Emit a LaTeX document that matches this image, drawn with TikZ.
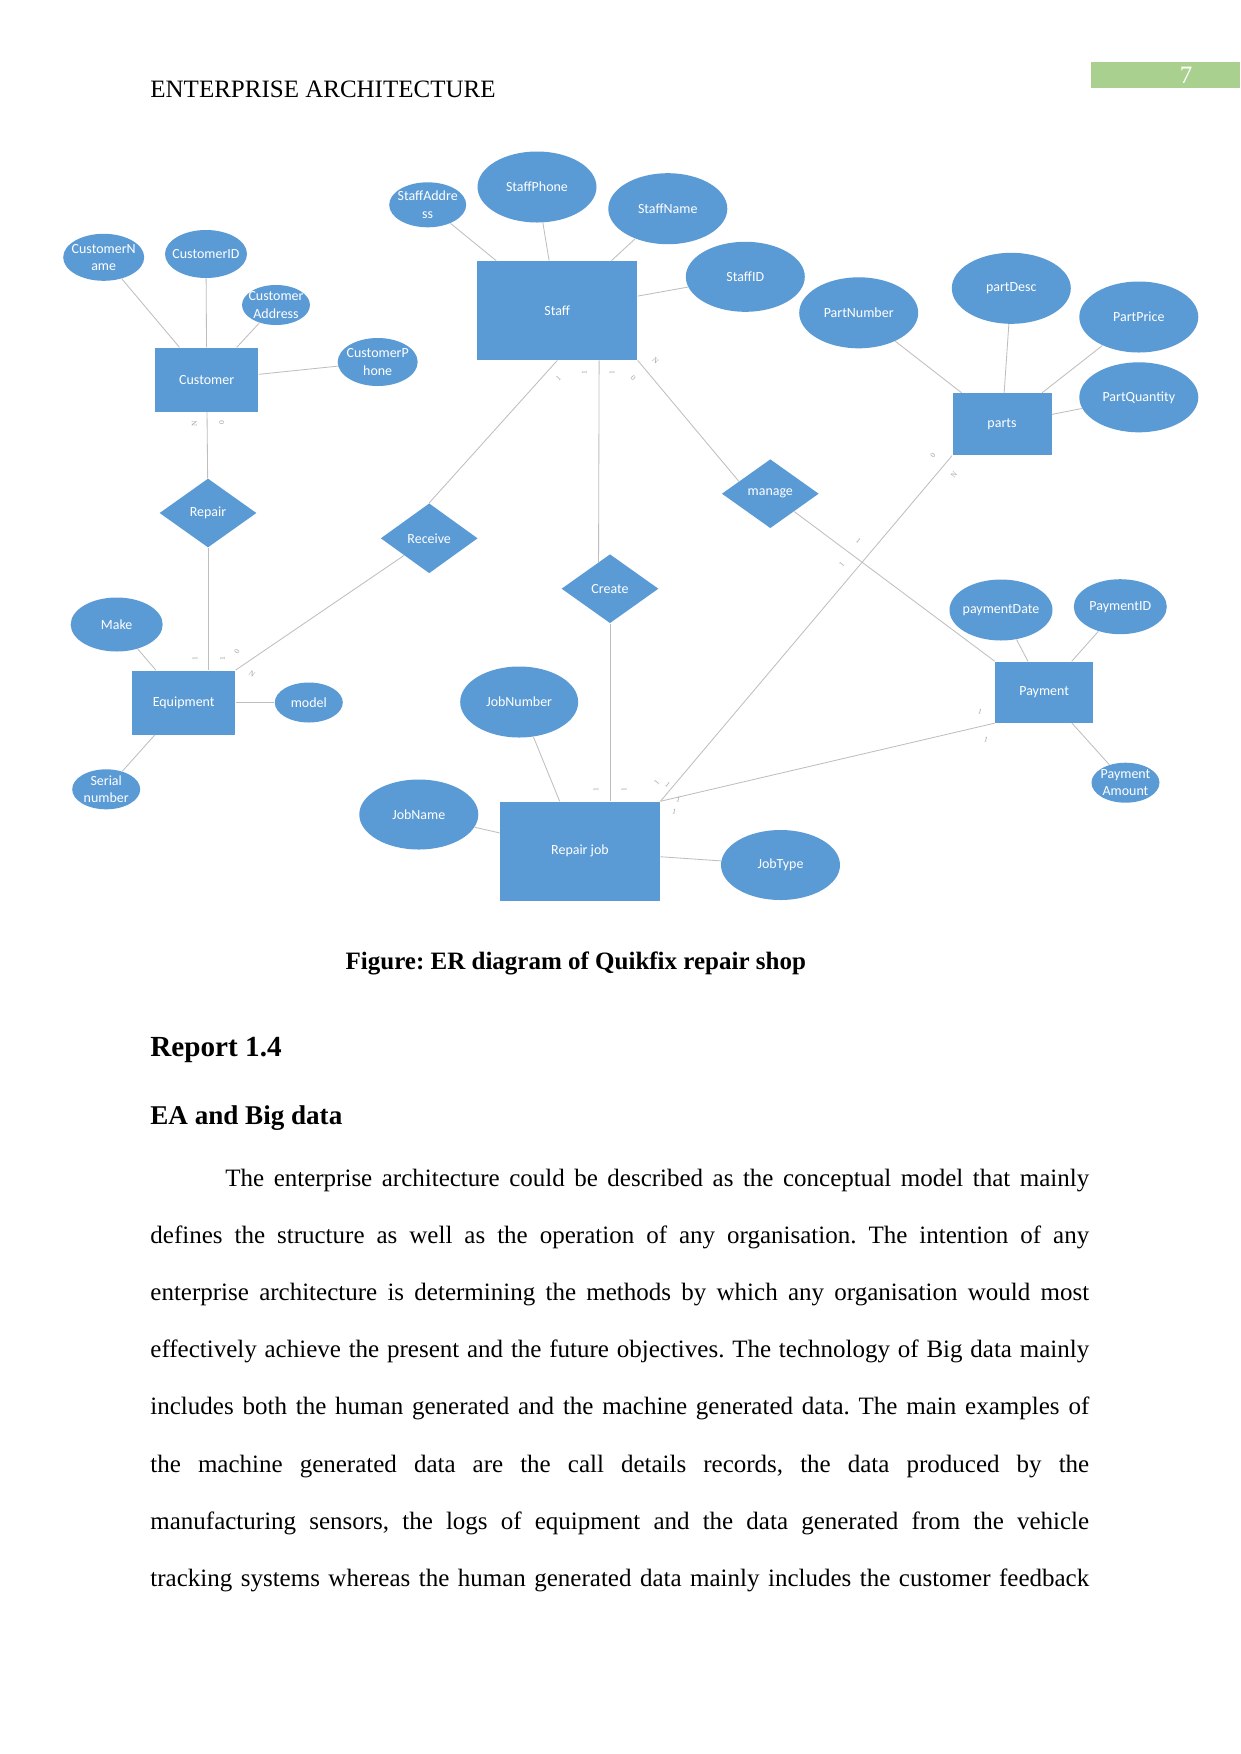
\documentclass[tikz,border=0pt]{standalone}
\usepackage{fontspec}
\setmainfont{Liberation Serif}
\newfontfamily\calib{Carlito}
\usetikzlibrary{shapes.geometric,calc}
\definecolor{erblue}{RGB}{91,155,213}
\definecolor{hdgreen}{RGB}{169,208,142}
\definecolor{lnclr}{RGB}{190,190,190}
\definecolor{cardclr}{RGB}{160,160,160}
\def\u{0.48pt}
\frenchspacing
\newcommand\erfont{\calib\fontsize{6.7}{8.3}\selectfont}
\newcommand\attrnode[5]{\node[attr, sz={#3}{#4}] (#1) at #2 {}; \node[lbl] (#1t) at (#1) {#5};}
\newcommand\txtline[4]{\node[anchor=base west, inner sep=0, font=\fontsize{12}{14}\selectfont] (#1) at #2 {\makebox[#3][s]{#4}};}
\tikzset{
  sz/.style 2 args={minimum width=#1*\u, minimum height=#2*\u},
  attr/.style={ellipse, fill=erblue, inner sep=0},
  ent/.style={rectangle, fill=erblue, inner sep=0, text=white, font=\erfont},
  rel/.style={diamond, fill=erblue, inner sep=0, text=white, font=\erfont},
  lbl/.style={text=white, font=\erfont, align=center, inner sep=0},
  conn/.style={draw=lnclr, line width=0.4pt},
  card/.style={font=\fontsize{3.6}{4}\selectfont, text=cardclr, inner sep=0}
}
\begin{document}
\begin{tikzpicture}[x=\u, y=-\u]
\useasboundingbox (0,0) rectangle (1241,1754);
\fill[white] (0,0) rectangle (1241,1754);

% header
\node[anchor=base west, inner sep=0, font=\fontsize{12}{14}\selectfont] (hdr) at (150,97) {ENTERPRISE ARCHITECTURE};
\node[fill=hdgreen, minimum width=149*\u, minimum height=26.5*\u, inner sep=0, anchor=north west] (pgbox) at (1091,61.5) {};
\node[anchor=base, text=white, inner sep=0, font=\fontsize{12}{14}\selectfont] (pgno) at (1186,83) {7};

% entities
\node[ent, sz={103}{64}] (cust) at (206.7,379.7) {Customer};
\node[ent, sz={160}{99}] (staff) at (557.3,310.5) {Staff};
\node[ent, sz={99}{62}] (parts) at (1002,424.2) {parts};
\node[ent, sz={103}{64}] (equip) at (183.7,702.5) {Equipment};
\node[ent, sz={160}{99}] (rjob) at (580,851.2) {Repair job};
\node[ent, sz={98}{61}] (pay) at (1044.2,692.2) {Payment};

% relationships
\node[rel, sz={97}{69}] (repair) at (208,513) {Repair};
\node[rel, sz={97}{70}] (receive) at (429.2,538.3) {Receive};
\node[rel, sz={97}{69}] (manage) at (770.3,493.7) {manage};
\node[rel, sz={97}{69}] (create) at (610,588.7) {Create};

% attributes
\attrnode{cname}{(103.7,257.3)}{81}{47}{CustomerN\\ame}
\attrnode{cid}{(206,254)}{82}{48}{CustomerID}
\attrnode{caddr}{(276,305)}{68}{40}{Customer\\Address}
\attrnode{cphone}{(377.7,362)}{80}{48}{CustomerP\\hone}
\attrnode{saddr}{(427.7,204.8)}{77}{45}{StaffAddre\\ss}
\attrnode{sphone}{(537,187)}{119}{71}{StaffPhone}
\attrnode{sname}{(667.8,208.7)}{119}{71}{StaffName}
\attrnode{sid}{(745.3,276.8)}{119}{70}{StaffID}
\attrnode{pnum}{(858.7,312.8)}{119}{71}{PartNumber}
\attrnode{pdesc}{(1011.3,288.3)}{119}{71}{partDesc}
\attrnode{pprice}{(1138.8,317)}{119}{71}{PartPrice}
\attrnode{pqty}{(1138.8,397.3)}{119}{70}{PartQuantity}
\attrnode{make}{(116.7,624.5)}{92}{54}{Make}
\attrnode{model}{(308.8,702.5)}{68}{40}{model}
\attrnode{serial}{(106.2,789.3)}{68}{40}{Serial\\number}
\attrnode{jobnum}{(519.2,702)}{118}{71}{JobNumber}
\attrnode{jobname}{(418.8,814.5)}{119}{70}{JobName}
\attrnode{jobtype}{(780.5,865)}{119}{70}{JobType}
\attrnode{pdate}{(1001,610)}{103}{61}{paymentDate}
\attrnode{pid}{(1120.3,606.7)}{93}{55}{PaymentID}
\attrnode{pamt}{(1125.5,782.7)}{68}{40}{Payment\\Amount}

% attribute connectors
\draw[conn] (cname) -- (cust);
\draw[conn] (cid) -- (cust);
\draw[conn] (caddr) -- (cust);
\draw[conn] (cphone) -- (cust);
\draw[conn] (saddr) -- (staff);
\draw[conn] (sphone) -- (staff);
\draw[conn] (sname) -- (staff);
\draw[conn] (sid) -- (staff);
\draw[conn] (pnum) -- (parts);
\draw[conn] (pdesc) -- (parts);
\draw[conn] (pprice) -- (parts);
\draw[conn] (pqty) -- (parts);
\draw[conn] (make) -- (equip);
\draw[conn] (model) -- (equip);
\draw[conn] (serial) -- (equip);
\draw[conn] (jobnum) -- (rjob);
\draw[conn] (jobname) -- (rjob);
\draw[conn] (jobtype) -- (rjob);
\draw[conn] (pdate) -- (pay);
\draw[conn] (pid) -- (pay);
\draw[conn] (pamt) -- (pay);

% relationship connectors
\draw[conn] (cust) -- (repair);
\draw[conn] (repair.south) -- (repair.south |- equip.north);
\draw[conn] (receive) -- (equip.north east);
\draw[conn] (receive.north) -- (staff.south);
\draw[conn] ($(staff.south)!0.52!(staff.south east)$) -- ($(create.north)!0.234!(create.west)$);
\draw[conn] (create.south) -- (create.south |- rjob.north);
\draw[conn] (staff.south east) -- ($(manage.north)!0.644!(manage.west)$);
\draw[conn] (manage) -- (pay.north west);
\draw[conn] (parts.south west) -- (rjob.north east);
\draw[conn] (pay.south west) -- (rjob.north east);

% cardinality marks
\node[card, rotate=90] (k1) at (194.5,424) {N};
\node[card, rotate=90] (k2) at (221.7,422.7) {0};
\node[card, rotate=90] (k3) at (195,658.3) {1};
\node[card, rotate=90] (k4) at (222.7,658.3) {1};
\node[card, rotate=60] (k5) at (237,651.7) {0};
\node[card, rotate=-35] (k6) at (252,674) {N};
\node[card, rotate=45] (k7) at (558.5,378.3) {1};
\node[card, rotate=90] (k8) at (584.5,372.7) {1};
\node[card, rotate=90] (k9) at (612,372.7) {1};
\node[card, rotate=-45] (k10) at (633.3,378.3) {0};
\node[card, rotate=-45] (k11) at (655.5,360.5) {N};
\node[card, rotate=50] (k12) at (933,455) {0};
\node[card, rotate=50] (k13) at (954,474.5) {N};
\node[card, rotate=-40] (k14) at (858.3,540.7) {1};
\node[card, rotate=50] (k15) at (841.7,564) {1};
\node[card, rotate=-15] (k16) at (980,711.7) {1};
\node[card, rotate=-15] (k17) at (986,739.3) {1};
\node[card, rotate=90] (k18) at (596,789.3) {1};
\node[card, rotate=90] (k19) at (624,789.3) {1};
\node[card, rotate=50] (k20) at (656.7,782.7) {1};
\node[card, rotate=-40] (k21) at (667.7,785) {1};
\node[card, rotate=-15] (k22) at (678.3,800) {1};
\node[card, rotate=-15] (k23) at (674.3,811.7) {1};

% caption and text
\node[anchor=base, inner sep=0, font=\bfseries\fontsize{12}{14}\selectfont] (cap) at (575.8,969) {Figure: ER diagram of Quikfix repair shop};
\node[anchor=base west, inner sep=0, font=\bfseries\fontsize{14}{16}\selectfont] (h1) at (150,1056.3) {Report 1.4};
\node[anchor=base west, inner sep=0, font=\bfseries\fontsize{13}{15}\selectfont] (h2) at (150,1124.6) {EA and Big data};

\txtline{p1}{(225,1186.1)}{414.6pt}{The enterprise architecture could be described as the conceptual model that mainly}
\txtline{p2}{(150,1243.2)}{450.6pt}{defines the structure as well as the operation of any organisation. The intention of any}
\txtline{p3}{(150,1300.3)}{450.6pt}{enterprise architecture is determining the methods by which any organisation would most}
\txtline{p4}{(150,1357.3)}{450.6pt}{effectively achieve the present and the future objectives. The technology of Big data mainly}
\txtline{p5}{(150,1414.4)}{450.6pt}{includes both the human generated and the machine generated data. The main examples of}
\txtline{p6}{(150,1472.6)}{450.6pt}{the machine generated data are the call details records, the data produced by the}
\txtline{p7}{(150,1529.7)}{450.6pt}{manufacturing sensors, the logs of equipment and the data generated from the vehicle}
\txtline{p8}{(150,1586.7)}{450.6pt}{tracking systems whereas the human generated data mainly includes the customer feedback}
\end{tikzpicture}
\end{document}
